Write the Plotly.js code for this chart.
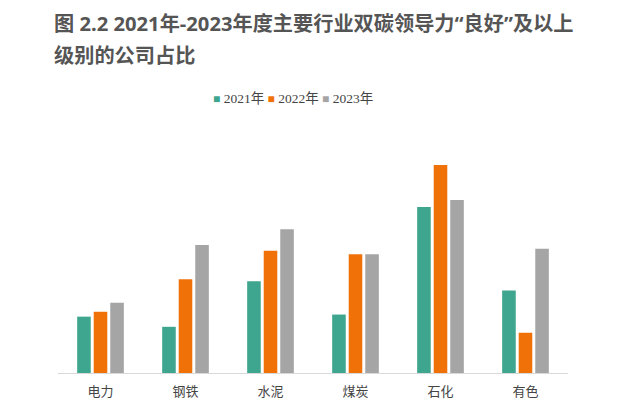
<!DOCTYPE html>
<html>
<head>
<meta charset="utf-8">
<script src="https://cdn.plot.ly/plotly-3.0.1.min.js"></script>
<style>
  html, body { margin: 0; padding: 0; background: #fff; }
  #chart { width: 628px; height: 416px; }
</style>
</head>
<body>
<div id="chart"></div>
<script>
"use strict";

// Industries (x axis)
const industries = ["电力", "钢铁", "水泥", "煤炭", "石化", "有色"];

// Share of companies rated "good" or above, %
const years = ["2021年", "2022年", "2023年"];
const share2021 = [16.1, 13.2, 26.2, 16.7, 47.4, 23.6];
const share2022 = [17.5, 26.8, 34.9, 33.9, 59.4, 11.5];
const share2023 = [20.1, 36.6, 41.1, 33.9, 49.4, 35.5];

// Title, two lines as in the report
const titleLines = [
  "图 2.2 2021年-2023年度主要行业双碳领导力“良好”及以上",
  "级别的公司占比",
];

const COLORS = ["#3ea58f", "#f07108", "#a5a5a5"];
const FONT_CJK = "'Noto Sans CJK SC', 'Noto Sans', sans-serif";
const FONT_TITLE = "'Noto Sans', 'Noto Sans CJK SC', sans-serif";
const FONT_SERIF = "'Liberation Serif', 'Noto Sans CJK SC', serif";

const series = [share2021, share2022, share2023];

const traces = series.map((vals, i) => ({
  type: "bar",
  name: years[i],
  x: industries,
  y: vals,
  marker: { color: COLORS[i] },
  showlegend: false,
  hovertemplate: "%{x} " + years[i] + ": %{y}%<extra></extra>",
}));

// Legend drawn as one line of text so the swatches sit tight to the labels
const legendText = years
  .map((y, i) =>
    `<span style="color:${COLORS[i]};font-size:12px">■</span> ${y}`)
  .join(" ");

const titleAnn = titleLines.map((t, i) => ({
  xref: "paper", yref: "paper",
  x: -0.012, y: i === 0 ? 1.428 : 1.298,
  xanchor: "left", yanchor: "middle",
  text: "<b>" + t + "</b>",
  showarrow: false,
  font: { family: FONT_TITLE, size: 20.2, color: "#555" },
}));

const layout = {
  width: 628,
  height: 416,
  paper_bgcolor: "#fff",
  plot_bgcolor: "#fff",
  font: { family: FONT_CJK, color: "#444" },
  margin: { t: 128, r: 60, b: 43, l: 58 },
  barmode: "group",
  bargap: 0.416,
  bargroupgap: 0.18,
  xaxis: {
    showgrid: false,
    showline: true,
    linecolor: "#d9d9d9",
    linewidth: 1,
    ticks: "",
    tickfont: { family: FONT_CJK, size: 13, color: "#444" },
    ticklabelstandoff: 6,
  },
  yaxis: {
    range: [0, 70],
    visible: false,
    showgrid: false,
    zeroline: false,
  },
  annotations: [
    {
      xref: "paper", yref: "paper",
      x: 0.461, y: 1.12,
      xanchor: "center", yanchor: "middle",
      text: legendText,
      showarrow: false,
      font: { family: FONT_SERIF, size: 13.5, color: "#444" },
    },
    ...titleAnn,
  ],
};

Plotly.newPlot("chart", traces, layout, { displayModeBar: false, staticPlot: true });
</script>
</body>
</html>
